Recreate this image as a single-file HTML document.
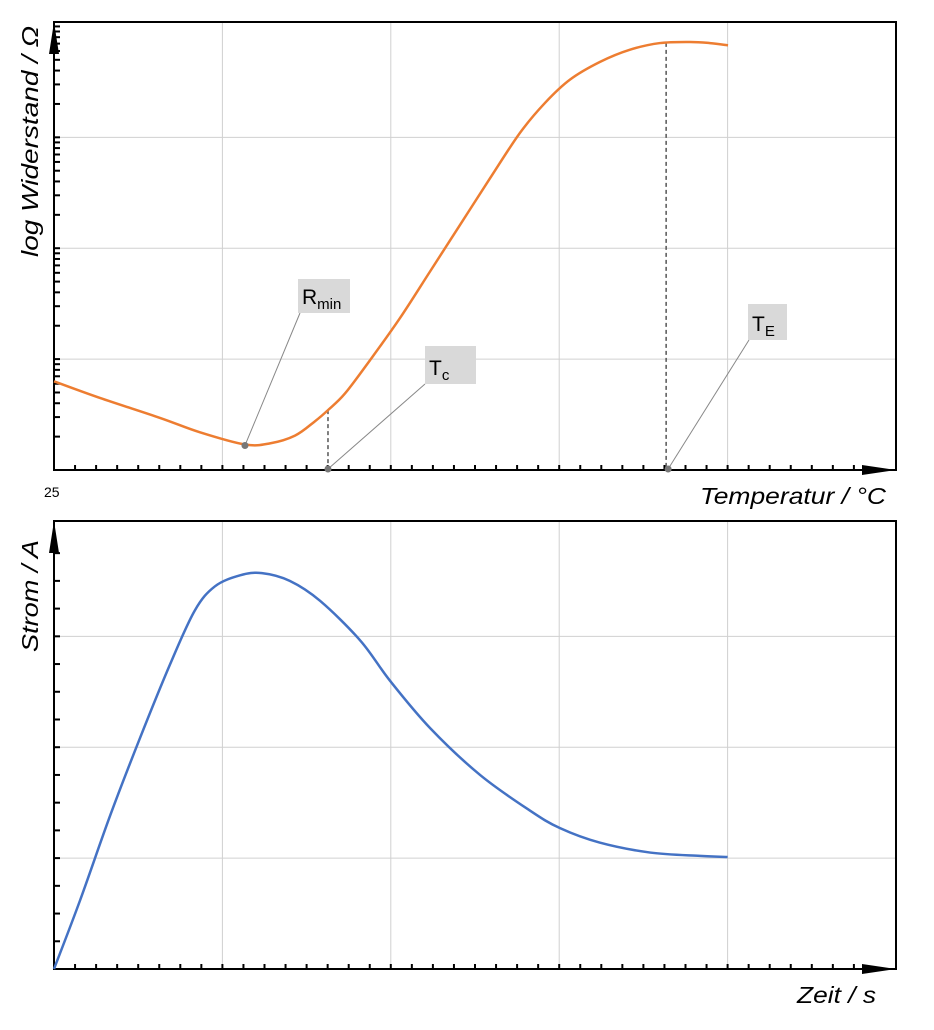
<!DOCTYPE html>
<html><head><meta charset="utf-8"><style>
body{margin:0;background:#fff;}
svg{display:block;font-family:"Liberation Sans",sans-serif;}
</style></head><body>
<svg id="c" width="934" height="1030" xmlns="http://www.w3.org/2000/svg"></svg>
<script>
// top chart: temperature (domain 0..100) vs log resistance (decades 0..4)
const tempX = [0,5.46,12.59,17.34,22.68,25.65,28.62,31.0,32.54,34.56,37.53,41.09,44.66,48.22,51.78,55.34,58.31,61.28,64.85,68.41,71.97,75.53,77.91,80.05];
const logR = [0.80,0.65,0.47,0.34,0.23,0.24,0.31,0.44,0.54,0.69,0.99,1.37,1.79,2.21,2.63,3.04,3.31,3.52,3.68,3.79,3.85,3.86,3.85,3.83];
// bottom chart: time vs current (0..4)
const timeX = [0,3.1,6.7,10.2,13.8,16.7,19.1,22.1,24.7,28,31.6,36.4,39.9,44.7,50.6,56.5,60.1,64.8,70.8,76.7,80];
const current = [0,0.62,1.39,2.08,2.75,3.23,3.45,3.55,3.57,3.5,3.32,2.96,2.6,2.17,1.75,1.43,1.27,1.14,1.05,1.02,1.01];
const tcX = 32.54, teX = 72.7, rminX = 22.68;

const svg = document.getElementById('c');
const NS = 'http://www.w3.org/2000/svg';
function mk(tag, at, parent){const e=document.createElementNS(NS,tag);for(const k in at)e.setAttribute(k,at[k]);(parent||svg).appendChild(e);return e;}
const X0=54, X1=896, W=X1-X0;
const sx = v => X0 + v/100*W;
function panel(top, bottom, name){
  const g = mk('g',{});
  
  
  const dy=(bottom-top)/4.04;
  for(let i=1;i<=4;i++){const x=X0+i*168.4;mk('line',{x1:x,x2:x,y1:top,y2:bottom,stroke:'#d0d0d0','stroke-width':1},g);}
  for(let i=1;i<=3;i++){const y=bottom-i*dy;mk('line',{x1:X0,x2:X1,y1:y,y2:y,stroke:'#d0d0d0','stroke-width':1},g);}
  mk('rect',{x:X0,y:top,width:W,height:bottom-top,fill:'none',stroke:'#000','stroke-width':2},g);
  for(let i=1;i<40;i++){const x=X0+i*21.05; if(x>865)break; mk('line',{x1:x,x2:x,y1:bottom,y2:bottom-5,stroke:'#000','stroke-width':2},g);}
  mk('polygon',{points:`${X1-34},${bottom-5} ${X1},${bottom} ${X1-34},${bottom+5}`,fill:'#000'},g);
  mk('polygon',{points:`${X0-5},${top+32} ${X0},${top} ${X0+5},${top+32}`,fill:'#000'},g);
  return {g,dy};
}
const T=22,B=470;
const p1=panel(T,B,'resistance-chart');
const sy1 = v => B - v*p1.dy;
for(let d=0;d<4;d++){for(let k=2;k<=10;k++){const y=B-(d+Math.log10(k))*p1.dy; if(y<T+2)continue; mk('line',{x1:X0,x2:X0+6,y1:y,y2:y,stroke:'#000','stroke-width':2},p1.g);}}
function path(xs,ys,fx,fy,color,name){
  const P=xs.map((x,i)=>[fx(x),fy(ys[i])]);
  let d='M'+P[0][0]+','+P[0][1];
  for(let i=0;i<P.length-1;i++){const p0=P[i-1]||P[i],a=P[i],b=P[i+1],p3=P[i+2]||b;
    d+=` C${a[0]+(b[0]-p0[0])/6},${a[1]+(b[1]-p0[1])/6} ${b[0]-(p3[0]-a[0])/6},${b[1]-(p3[1]-a[1])/6} ${b[0]},${b[1]}`;}
  const e=mk('path',{d,fill:'none',stroke:color,'stroke-width':2.5});
  
  
}
function interp(xs,ys,x){for(let i=0;i<xs.length-1;i++){if(x>=xs[i]&&x<=xs[i+1]){const t=(x-xs[i])/(xs[i+1]-xs[i]);return ys[i]+t*(ys[i+1]-ys[i]);}}return ys[ys.length-1];}
const tcY=sy1(interp(tempX,logR,tcX)), teY=sy1(interp(tempX,logR,teX));
mk('line',{x1:sx(tcX),x2:sx(tcX),y1:tcY,y2:B,stroke:'#555','stroke-width':1.5,'stroke-dasharray':'4,3'});
mk('line',{x1:sx(teX),x2:sx(teX),y1:teY,y2:B,stroke:'#555','stroke-width':1.5,'stroke-dasharray':'4,3'});
path(tempX,logR,sx,sy1,'#ed7d31','resistance-curve');
const rmY=sy1(interp(tempX,logR,rminX));
function ann(px,py,bx,by,bw,bh,main,sub,name,lx,ly){
  mk('line',{x1:px,y1:py,x2:lx,y2:ly,stroke:'#888','stroke-width':1});
  mk('circle',{cx:px,cy:py,r:3.5,fill:'#777'});
  const r=mk('rect',{x:bx,y:by,width:bw,height:bh,fill:'#d9d9d9'});
  
  
  const t=mk('text',{x:bx+4,y:by+bh-9,'font-size':21,fill:'#000'});
  t.textContent=main;
  const s=mk('tspan',{'font-size':15,dy:5},t);s.textContent=sub;
}
ann(sx(rminX),rmY+1,298,279,52,34,'R','min','rmin',300,313);
ann(sx(tcX),B-1,425,346,51,38,'T','c','tc',425,384);
ann(sx(teX)+2,B-1,748,304,39,36,'T','E','te',749,340);
let t;
t=mk('text',{x:44,y:497,'font-size':14,fill:'#000'});t.textContent='25';

t=mk('text',{x:700,y:504,'font-size':23,'font-style':'italic',textLength:186,lengthAdjust:'spacingAndGlyphs',fill:'#000'});t.textContent='Temperatur / °C';

t=mk('text',{x:0,y:0,'font-size':23,'font-style':'italic',textLength:231,lengthAdjust:'spacingAndGlyphs',fill:'#000',transform:'translate(38,257) rotate(-90)'});t.textContent='log Widerstand / Ω';

const T2=521,B2=969;
const p2=panel(T2,B2,'current-chart');
const sy2 = v => B2 - v*p2.dy;
for(let i=1;i<16;i++){const y=B2-i*p2.dy/4; if(y<T2+2)break; mk('line',{x1:X0,x2:X0+6,y1:y,y2:y,stroke:'#000','stroke-width':2},p2.g);}
path(timeX,current,sx,sy2,'#4472c4','current-curve');
t=mk('text',{x:797,y:1003,'font-size':23,'font-style':'italic',textLength:79,lengthAdjust:'spacingAndGlyphs',fill:'#000'});t.textContent='Zeit / s';

t=mk('text',{x:0,y:0,'font-size':23,'font-style':'italic',textLength:112,lengthAdjust:'spacingAndGlyphs',fill:'#000',transform:'translate(38,652) rotate(-90)'});t.textContent='Strom / A';

</script>
</body></html>
